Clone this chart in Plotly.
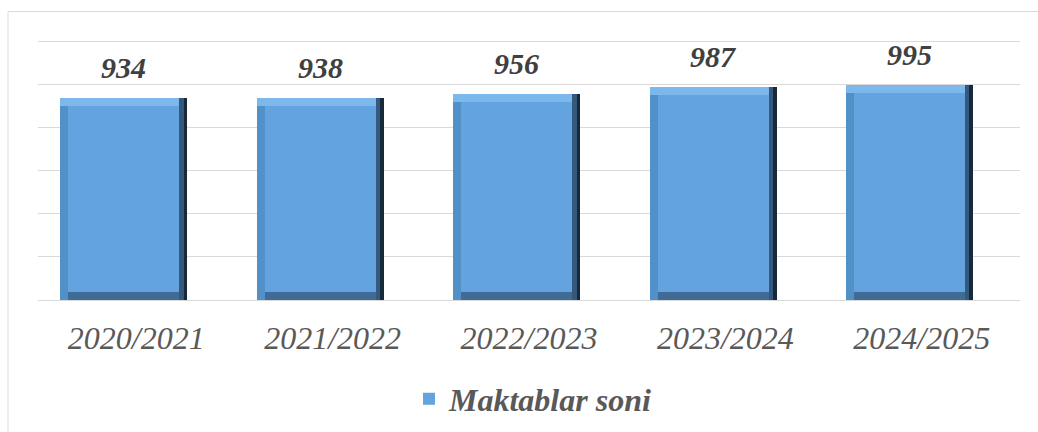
import plotly.graph_objects as go

# ---- data ----
years = ["2020/2021", "2021/2022", "2022/2023", "2023/2024", "2024/2025"]
schools = [934, 938, 956, 987, 995]
series_name = "Maktablar soni"

# ---- geometry / style (not data) ----
W, H = 1038, 432
GRID_TOP = 1200
BASE_PX, TOP_PX = 300, 41            # pixel rows of 0 and GRID_TOP
px_y = (BASE_PX - TOP_PX) / GRID_TOP
T = 39
Y_MAX = GRID_TOP + (TOP_PX - T) / px_y
L, R, B = 38, 18, H - BASE_PX
plot_w = W - L - R
plot_h = H - T - B
px_x = plot_w / len(years)
BAR_OFF = -0.386
BAR_W = 0.647
E = 8                                # bevel size in px
ex = E / px_x
ey = E / px_y

face = "#62A3E0"
top_c = "#7DB8EC"
left_c = "#5290C8"
right_outer = "#172A3C"
right_mid = "#35597C"
bottom_c = "#3F6B94"

fig = go.Figure()
n = len(years)

def layer(color, offset, width, base, height, show=False, name=None):
    fig.add_trace(go.Bar(
        x=years,
        y=height,
        base=base,
        offset=offset,
        width=width,
        marker=dict(color=color, line=dict(width=0)),
        showlegend=show,
        name=name if name else "",
        hoverinfo=None if show else "skip",
    ))

layer(right_outer, BAR_OFF, BAR_W, [0] * n, schools)
layer(right_mid, BAR_OFF, BAR_W - ex * 0.45, [0] * n, schools)
layer(left_c, BAR_OFF, BAR_W - ex, [0] * n, schools)
layer(bottom_c, BAR_OFF + ex, BAR_W - 2 * ex, [0] * n, [ey] * n)
layer(top_c, BAR_OFF, BAR_W - ex, [v - ey for v in schools], [ey] * n)
layer(face, BAR_OFF + ex, BAR_W - 2 * ex, [ey] * n, [v - 2 * ey for v in schools],
      show=True, name=series_name)

# value labels
for i, v in enumerate(schools):
    fig.add_annotation(
        x=i + BAR_OFF + BAR_W / 2, y=v, xref="x", yref="y",
        text=str(v), showarrow=False, yanchor="bottom", xanchor="center",
        yshift=12,
        font=dict(family="Liberation Serif", size=30, color="#404040",
                  weight="bold", style="italic"),
    )

# outer chart border
fig.add_shape(type="rect", xref="paper", yref="paper",
              x0=(8 - L) / plot_w, x1=(W + 20 - L) / plot_w,
              y0=-(H + 20 - T - plot_h) / plot_h, y1=1 + (T - 11.5) / plot_h,
              line=dict(color="#D9D9D9", width=1), fillcolor="rgba(0,0,0,0)",
              layer="below")

fig.update_layout(
    width=W, height=H,
    margin=dict(l=L, r=R, t=T, b=B, pad=0, autoexpand=False),
    paper_bgcolor="white", plot_bgcolor="white",
    barmode="overlay",
    bargap=0,
    showlegend=True,
    legend=dict(
        orientation="h", x=(533 - L) / plot_w, y=-(399 - T - plot_h) / plot_h,
        xanchor="center", yanchor="middle",
        font=dict(family="Liberation Serif", size=32, color="#595959",
                  weight="bold", style="italic"),
        bgcolor="rgba(0,0,0,0)",
    ),
    xaxis=dict(
        type="category", showgrid=False, zeroline=False, showline=False,
        ticks="", ticklabelstandoff=16,
        tickfont=dict(family="Liberation Serif", size=32, color="#595959",
                      style="italic"),
        range=[-0.5, n - 0.5],
    ),
    yaxis=dict(
        range=[0, Y_MAX], tick0=0, dtick=200, showticklabels=False, ticks="",
        showgrid=True, gridcolor="#D9D9D9", gridwidth=1,
        zeroline=True, zerolinecolor="#D9D9D9", zerolinewidth=1,
        showline=False,
    ),
)

fig.write_html("out.html")
